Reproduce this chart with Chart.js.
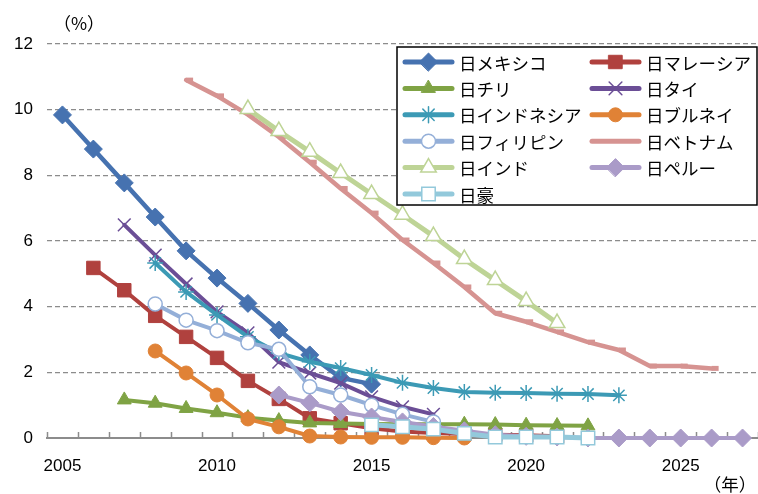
<!DOCTYPE html>
<html>
<head>
<meta charset="utf-8">
<script src="https://cdn.jsdelivr.net/npm/chart.js@4.4.1/dist/chart.umd.min.js"></script>
<style>
  html, body { margin: 0; padding: 0; background: #fff; }
  #wrap { width: 758px; height: 494px; }
</style>
</head>
<body>
<div id="wrap"><canvas id="lineChart" width="758" height="494"></canvas></div>
<script>
// years on the category axis (only every 5th gets a label)
var years = ['2005', '2006', '2007', '2008', '2009', '2010', '2011', '2012', '2013', '2014', '2015', '2016',
    '2017', '2018', '2019', '2020', '2021', '2022', '2023', '2024', '2025', '2026', '2027'];
var yTicks = [0, 2, 4, 6, 8, 10, 12];

// tariff rate per year, %  (null = no value that year)
var mexico = [9.84, 8.8, 7.77, 6.73, 5.7, 4.87, 4.1, 3.29, 2.53, 1.83, 1.64];
var malaysia = [null, 5.18, 4.5, 3.72, 3.08, 2.44, 1.74, 1.19, 0.6, 0.45, 0.3, 0.2, 0.15, 0.12, 0.1, 0.08, 0.05];
var chile = [null, null, 1.16, 1.06, 0.9, 0.77, 0.62, 0.53, 0.46, 0.44, 0.43, 0.42, 0.42, 0.42, 0.41, 0.39, 0.38, 0.37];
var thailand = [null, null, 6.49, 5.57, 4.69, 3.84, 3.2, 2.31, 1.98, 1.67, 1.25, 0.95, 0.72];
var indonesia = [null, null, null, 5.33, 4.45, 3.75, 3.08, 2.59, 2.32, 2.13, 1.92, 1.68, 1.52, 1.4, 1.38, 1.37,
    1.35, 1.34, 1.3];
var brunei = [null, null, null, 2.65, 1.98, 1.31, 0.58, 0.34, 0.06, 0.03, 0.02, 0.02, 0.01, 0];
var philippines = [null, null, null, 4.08, 3.59, 3.27, 2.9, 2.7, 1.56, 1.31, 1.0, 0.72, 0.49];
var vietnam = [null, null, null, null, 10.9, 10.42, 9.85, 9.17, 8.4, 7.6, 6.85, 6.03, 5.33, 4.6, 3.8, 3.54,
    3.23, 2.92, 2.68, 2.19, 2.19, 2.12];
var india = [null, null, null, null, null, null, 10.02, 9.35, 8.72, 8.07, 7.43, 6.8, 6.15, 5.45, 4.81, 4.17, 3.5];
var peru = [null, null, null, null, null, null, null, 1.31, 1.07, 0.8, 0.64, 0.49, 0.35, 0.22, 0.1, 0.05, 0.03,
    0, 0, 0, 0, 0, 0];
var australia = [null, null, null, null, null, null, null, null, null, null, 0.4, 0.34, 0.27, 0.14, 0.03, 0.03,
    0.03, 0];

var names = ['日メキシコ', '日マレーシア', '日チリ', '日タイ', '日インドネシア', '日ブルネイ',
    '日フィリピン', '日ベトナム', '日インド', '日ペルー', '日豪'];

var labelFont = '17.5px "Noto Sans CJK JP", sans-serif';
var tickFont = { family: '"Liberation Sans", Arial, sans-serif', size: 17 };
var axisGrey = '#8c8c8c';

function series(label, data, color, style) {
    return {
        label: label,
        data: data,
        borderColor: color,
        borderWidth: style.width || 4,
        borderJoinStyle: 'round',
        borderCapStyle: 'round',
        tension: 0,
        spanGaps: false,
        clip: false,
        pointStyle: style.point,
        pointRadius: style.radius,
        pointRotation: 0,
        pointBackgroundColor: style.fill || color,
        pointBorderColor: color,
        pointBorderWidth: style.pw || 1
    };
}

var datasets = [
    series(names[0], mexico, '#4672b0', { point: 'rectRot', radius: 9, width: 4.5 }),
    series(names[1], malaysia, '#b0413e', { point: 'rect', radius: 9.5 }),
    series(names[2], chile, '#7fa344', { point: 'triangle', radius: 8 }),
    series(names[3], thailand, '#6b4e96', { point: 'crossRot', radius: 9, pw: 1.5 }),
    series(names[4], indonesia, '#3c9ab5', { point: 'star', radius: 8, pw: 1.5 }),
    series(names[5], brunei, '#e08236', { point: 'circle', radius: 7 }),
    series(names[6], philippines, '#94afd8', { point: 'circle', radius: 7, fill: '#ffffff', pw: 1.5 }),
    series(names[7], vietnam, '#d69391', { point: 'dash', radius: 7, pw: 5, width: 4.5 }),
    series(names[8], india, '#bed496', { point: 'triangle', radius: 9, fill: '#ffffff', pw: 1.5, width: 5 }),
    series(names[9], peru, '#aa9bc8', { point: 'rectRot', radius: 9 }),
    series(names[10], australia, '#93c9db', { point: 'rect', radius: 9.5, fill: '#ffffff', pw: 1.5, width: 5 })
];
// later series sit on top of earlier ones
datasets.forEach(function(d, i) { d.order = -i; });

// small tick marks between the year categories, pointing up from the axis
var innerTicks = {
    id: 'innerTicks',
    beforeDatasetsDraw: function(chart) {
        var ctx = chart.ctx, xs = chart.scales.x;
        var n = xs.getLabels().length;
        var step = (xs.right - xs.left) / n;
        ctx.save();
        ctx.strokeStyle = axisGrey;
        ctx.lineWidth = 1.5;
        ctx.beginPath();
        for (var i = 0; i <= n; i++) {
            var x = Math.round(xs.left + i * step) + 0.5;
            ctx.moveTo(x, xs.top);
            ctx.lineTo(x, xs.top - 6);
        }
        ctx.stroke();
        ctx.restore();
    }
};

// boxed two-column legend plus the unit captions
var legendBox = {
    id: 'legendBox',
    afterDraw: function(chart) {
        var ctx = chart.ctx;
        var left = 397, top = 47, w = 360, h = 158;
        ctx.save();
        ctx.fillStyle = '#fff';
        ctx.fillRect(left, top, w, h);
        ctx.strokeStyle = '#000';
        ctx.lineWidth = 1.5;
        ctx.strokeRect(left, top, w, h);

        ctx.font = labelFont;
        ctx.textBaseline = 'middle';
        chart.data.datasets.forEach(function(ds, i) {
            var col = i % 2, row = Math.floor(i / 2);
            var x = left + 8 + col * 187;
            var y = top + 15 + row * 26.4;
            ctx.strokeStyle = ds.borderColor;
            ctx.lineWidth = 5;
            ctx.lineCap = 'round';
            ctx.beginPath();
            ctx.moveTo(x, y);
            ctx.lineTo(x + 47, y);
            ctx.stroke();
            if (ds.pointStyle !== 'dash') {
                ctx.fillStyle = ds.pointBackgroundColor;
                ctx.strokeStyle = ds.pointBorderColor;
                ctx.lineWidth = ds.pointBorderWidth;
                Chart.helpers.drawPoint(ctx, {
                    pointStyle: ds.pointStyle,
                    radius: ds.pointRadius,
                    rotation: 0,
                    borderWidth: ds.pointBorderWidth
                }, x + 23.5, y);
            }
            ctx.fillStyle = '#000';
            ctx.textAlign = 'left';
            ctx.fillText(ds.label, x + 54, y + 1);
        });

        ctx.textAlign = 'center';
        ctx.fillText('（%）', 79, 23);
        ctx.fillText('（年）', 730, 484);
        ctx.restore();
    }
};

var lineChartCanvas = document.getElementById('lineChart').getContext('2d');

new Chart(lineChartCanvas, {
    type: 'line',
    data: {
        labels: years,
        datasets: datasets
    },
    options: {
        responsive: false,
        animation: false,
        layout: { autoPadding: false, padding: { top: 44, right: 0, left: 0, bottom: 0 } },
        plugins: {
            legend: { display: false },
            tooltip: { enabled: false }
        },
        scales: {
            x: {
                type: 'category',
                offset: true,
                grid: { display: false, drawTicks: false },
                border: { display: true, color: axisGrey, width: 2 },
                ticks: {
                    autoSkip: false,
                    maxRotation: 0,
                    padding: 18,
                    color: '#000',
                    font: tickFont,
                    callback: function(v) {
                        var y = this.getLabelForValue(v);
                        return Number(y) % 5 === 0 ? y : '';
                    }
                },
                afterFit: function(s) {
                    s.height = 56;
                    s.paddingLeft = 0;
                    s.paddingRight = 0;
                }
            },
            y: {
                min: 0,
                max: 12,
                afterBuildTicks: function(s) {
                    s.ticks = yTicks.map(function(v) { return { value: v }; });
                },
                ticks: { padding: 14, color: '#000', font: tickFont },
                grid: {
                    drawTicks: false,
                    lineWidth: 1.3,
                    color: function(c) { return c.tick && c.tick.value === 0 ? 'rgba(0,0,0,0)' : axisGrey; }
                },
                border: { display: false, dash: [5, 3] },
                afterFit: function(s) { s.width = 47; }
            }
        }
    },
    plugins: [innerTicks, legendBox]
});
</script>
</body>
</html>
